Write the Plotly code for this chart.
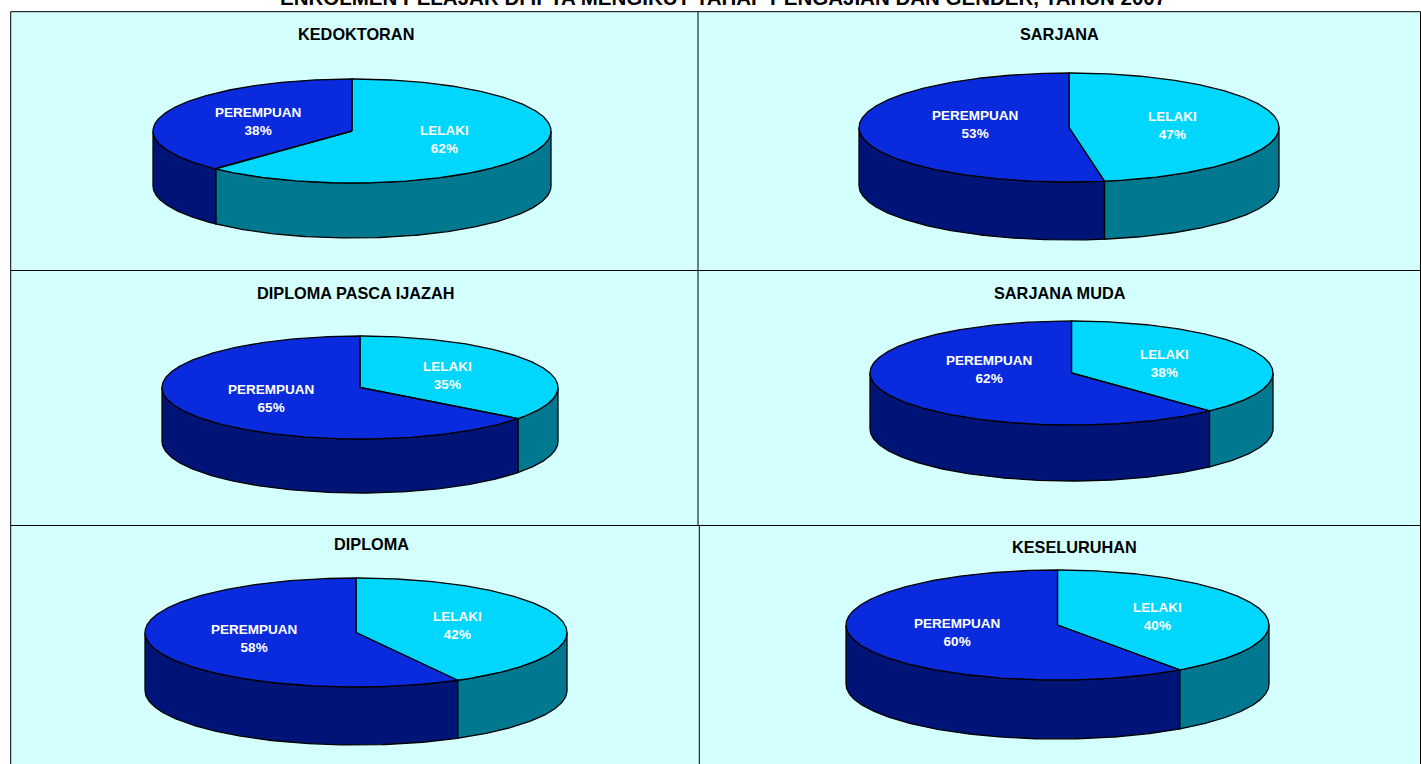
import numpy as np
import plotly.graph_objects as go

TITLE = "ENROLMEN PELAJAR DI IPTA MENGIKUT TAHAP PENGAJIAN DAN GENDER, TAHUN 2007"
categories = ["KEDOKTORAN", "SARJANA", "DIPLOMA PASCA IJAZAH", "SARJANA MUDA", "DIPLOMA", "KESELURUHAN"]
series_names = ["LELAKI", "PEREMPUAN"]
lelaki = [62, 47.3, 35.3, 38, 42, 40.2]
perempuan = [38, 52.7, 64.7, 62, 58, 59.8]

# layout of each pie: centre x, centre y, radius x, radius y, depth
GEOM = [(352, 131, 199, 52, 55), (1069, 127.5, 210, 54.5, 58),
        (360, 387.5, 198, 51.5, 54), (1071.5, 373, 201.5, 52, 56),
        (356, 632.5, 211, 54.5, 58), (1057.5, 625, 211.5, 55, 59)]
TITLE_POS = [(355.5, 34), (1059, 34), (356, 293), (1059.5, 293), (371.5, 544), (1074.5, 547)]
# small hand placement of labels relative to the mid-slice radius
NUDGE = [((2, -1), (-3, 0)), ((1, 0), (9, -5)), ((1, -.5), (-2, 0)),
         ((1, -.5), (9, -12.5)), ((1, -.5), (-2, -.5)), ((1, -.5), (-2, -.5))]
TOP = ["#00D7FF", "#0A2BDD"]
SIDE = ["#007890", "#001478"]
BG = "#D3FFFF"
LABEL_FRAC = 0.49

fig = go.Figure()


def ell(g, t):
    return g[0] + g[2] * np.sin(t), g[1] - g[3] * np.cos(t)


def poly(x, y, color):
    fig.add_trace(go.Scatter(x=x, y=y, mode="lines", fill="toself", fillcolor=color,
                             line=dict(color="black", width=1.3), hoverinfo="skip",
                             showlegend=False))


for g, name, a, b, tp, nd in zip(GEOM, categories, lelaki, perempuan, TITLE_POS, NUDGE):
    total = a + b
    split = 2 * np.pi * a / total
    spans = [(0.0, split), (split, 2 * np.pi)]
    # side walls: only the front half of the rim is visible
    for (s, e), col in zip(spans, SIDE):
        lo, hi = max(s, np.pi / 2), min(e, 3 * np.pi / 2)
        if hi > lo:
            t = np.linspace(lo, hi, 160)
            x, y = ell(g, t)
            poly(np.r_[x, x[::-1], x[0]], np.r_[y, y[::-1] + g[4], y[0]], col)
    # top slices
    for (s, e), col in zip(spans, TOP):
        t = np.linspace(s, e, 300)
        x, y = ell(g, t)
        poly(np.r_[g[0], x, g[0]], np.r_[g[1], y, g[1]], col)
    # labels sit on the radius through the middle of each slice
    for (s, e), lab, v, n in zip(spans, series_names, (a, b), nd):
        m = (s + e) / 2
        lx = g[0] + LABEL_FRAC * g[2] * np.sin(m) + n[0]
        ly = g[1] - LABEL_FRAC * g[3] * np.cos(m) + n[1]
        fig.add_annotation(x=lx, y=ly, text=f"<b>{lab}<br>{round(v)}%</b>", showarrow=False,
                           font=dict(family="Liberation Sans", size=13.5, color="white"))
    fig.add_annotation(x=tp[0], y=tp[1], text=f"<b>{name}</b>", showarrow=False,
                       font=dict(family="Liberation Sans", size=16.3, color="black"))

# The reference's overall title runs off the top of the page
fig.add_annotation(xref="paper", yref="paper", x=723 / 1421, y=1 + 2 / 764, yanchor="middle",
                   text=f"<b>{TITLE}</b>", showarrow=False,
                   font=dict(family="Liberation Sans", size=20.5, color="black"))

line = dict(color="black", width=1)
shapes = [
    dict(type="rect", x0=10.7, y0=11.7, x1=1420.5, y1=770, fillcolor=BG, line=line, layer="below"),
    dict(type="line", x0=11, x1=1420, y0=270.5, y1=270.5, line=line, layer="below"),
    dict(type="line", x0=11, x1=1420, y0=525.5, y1=525.5, line=line, layer="below"),
    dict(type="line", x0=698, x1=698, y0=12, y1=525, line=line, layer="below"),
    dict(type="line", x0=699.3, x1=699.3, y0=525, y1=770, line=line, layer="below"),
]
fig.update_layout(
    width=1421, height=764, margin=dict(l=0, r=0, t=0, b=0), paper_bgcolor="white",
    plot_bgcolor="white", shapes=shapes, showlegend=False,
    xaxis=dict(range=[0, 1421], visible=False, fixedrange=True),
    yaxis=dict(range=[764, 0], visible=False, fixedrange=True),
)
fig.write_html("out.html", config={"displayModeBar": False},
               post_script="document.body.style.margin='0';document.body.style.overflow='hidden';")
